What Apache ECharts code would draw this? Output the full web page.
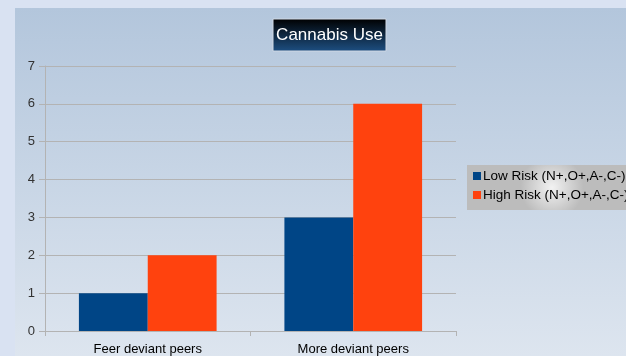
<!DOCTYPE html>
<html><head><meta charset="utf-8">
<script src="https://cdn.jsdelivr.net/npm/echarts@6/dist/echarts.min.js"></script>
<style>html,body{margin:0;padding:0;background:#d9e2f2;}#c{width:626px;height:356px;}</style>
</head><body><div id="c"></div>
<script>
const categories = ['Feer deviant peers', 'More deviant peers'];
const seriesNames = ['Low Risk (N+,O+,A-,C-)', 'High Risk (N+,O+,A-,C-)'];
const lowRisk = [1, 3];
const highRisk = [2, 6];
const titleText = 'Cannabis Use';

const chart = echarts.init(document.getElementById('c'), null, {renderer: 'canvas'});
const lg = (c0, c1) => new echarts.graphic.LinearGradient(0, 0, 0, 1, [{offset: 0, color: c0}, {offset: 1, color: c1}]);
chart.setOption({
  backgroundColor: '#d9e2f2',
  animation: false,
  graphic: [
    {type: 'rect', z: -10, shape: {x: 15, y: 8, width: 611, height: 348}, style: {fill: lg('#b3c6dc', '#dde5ef')}},
    {type: 'rect', z: -5, shape: {x: 273, y: 19, width: 113, height: 32}, style: {fill: lg('#000000', '#1d4f82'), stroke: '#d0d8e4', lineWidth: 1}},
    {type: 'text', z: 5, style: {text: titleText, x: 329.5, y: 35, align: 'center', verticalAlign: 'middle', fill: '#ffffff', fontSize: 17, fontFamily: 'Liberation Sans'}},
    {type: 'rect', z: -5, shape: {x: 467, y: 165, width: 170, height: 45}, style: {fill: new echarts.graphic.RadialGradient(0.5, 0.5, 0.7, [{offset: 0, color: '#f2f2f2'}, {offset: 1, color: '#bcbcbc'}])}}
  ],
  legend: {
    orient: 'vertical', left: 468, top: 164, itemWidth: 8, itemHeight: 8, itemGap: 5,
    icon: 'rect',
    textStyle: {fontSize: 13.5, color: '#000', fontFamily: 'Liberation Sans', padding: [0, 0, 0, -3]},
    data: seriesNames
  },
  grid: {left: 45, right: 170, top: 66, bottom: 25, containLabel: false},
  xAxis: {
    type: 'category', data: categories,
    axisLine: {lineStyle: {color: '#b3b3b3'}},
    axisTick: {show: true, length: 5, lineStyle: {color: '#b3b3b3'}},
    axisLabel: {color: '#000', fontSize: 13, fontFamily: 'Liberation Sans', margin: 12}
  },
  yAxis: {
    type: 'value', min: 0, max: 7, interval: 1,
    axisLine: {show: true, lineStyle: {color: '#b3b3b3'}},
    axisTick: {show: true, length: 6, lineStyle: {color: '#b3b3b3'}},
    splitLine: {lineStyle: {color: '#b3b3b3'}},
    axisLabel: {color: '#333', fontSize: 13, fontFamily: 'Liberation Sans', margin: 10}
  },
  series: [
    {name: seriesNames[0], type: 'bar', data: lowRisk, itemStyle: {color: '#004586'}, barGap: '0%', barCategoryGap: '33%'},
    {name: seriesNames[1], type: 'bar', data: highRisk, itemStyle: {color: '#ff420e'}, barGap: '0%', barCategoryGap: '33%'}
  ]
});
</script></body></html>
